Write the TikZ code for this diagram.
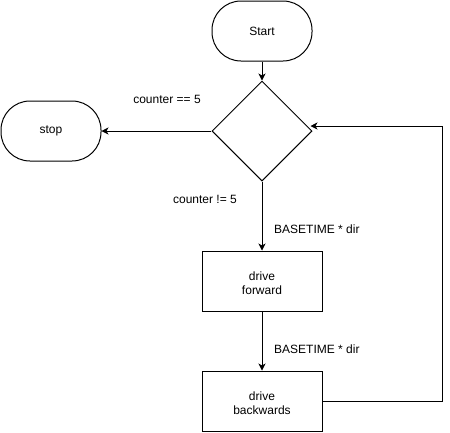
\documentclass[tikz,border=0pt]{standalone}
\usepackage{fontspec}
\setmainfont{Liberation Sans}
\usetikzlibrary{shapes.geometric,arrows.meta}
\tikzstyle{term} = [draw=black, line width=1pt, rectangle, rounded corners=29pt, minimum width=100pt, minimum height=60pt, inner sep=0pt]
\tikzstyle{test} = [draw=black, line width=1pt, diamond, minimum size=100pt, inner sep=0pt]
\tikzstyle{act} = [draw=black, line width=1pt, rectangle, minimum width=120pt, minimum height=60pt, inner sep=0pt, align=center]
\tikzstyle{lbl} = [inner sep=0pt]
\tikzstyle{arr} = [line width=0.8pt, -{Stealth[length=7pt,width=7pt,inset=2pt]}]

\begin{document}
\begin{tikzpicture}[x=1pt,y=-1pt,font=\fontsize{12}{13.5}\selectfont]
    \useasboundingbox (0,0) rectangle (450,432);
    \node[term](start) at (262,31){Start};
    \node[test](dec) at (262,131){};
    \node[term](stop) at (51,131){stop};
    \node[act](fwd) at (262,281){\mbox{}\\drive\\forward};
    \node[act](back) at (262,401){\mbox{}\\drive\\backwards};
    \node[lbl](eq) at (167,99){counter == 5};
    \node[lbl](neq) at (205,199){counter != 5};
    \node[lbl,anchor=west](t1) at (274,229){BASETIME * dir};
    \node[lbl,anchor=west](t2) at (274,349){BASETIME * dir};
    \coordinate(corner) at (442,401);
    \draw[arr](start)--(dec);
    \draw[arr](dec)--(stop);
    \draw[arr](dec)--(fwd);
    \draw[arr](fwd)--(back);
    \draw[arr](back)--(corner)|-([xshift=-2pt,yshift=5pt]dec.east);
  \end{tikzpicture}
\end{document}
